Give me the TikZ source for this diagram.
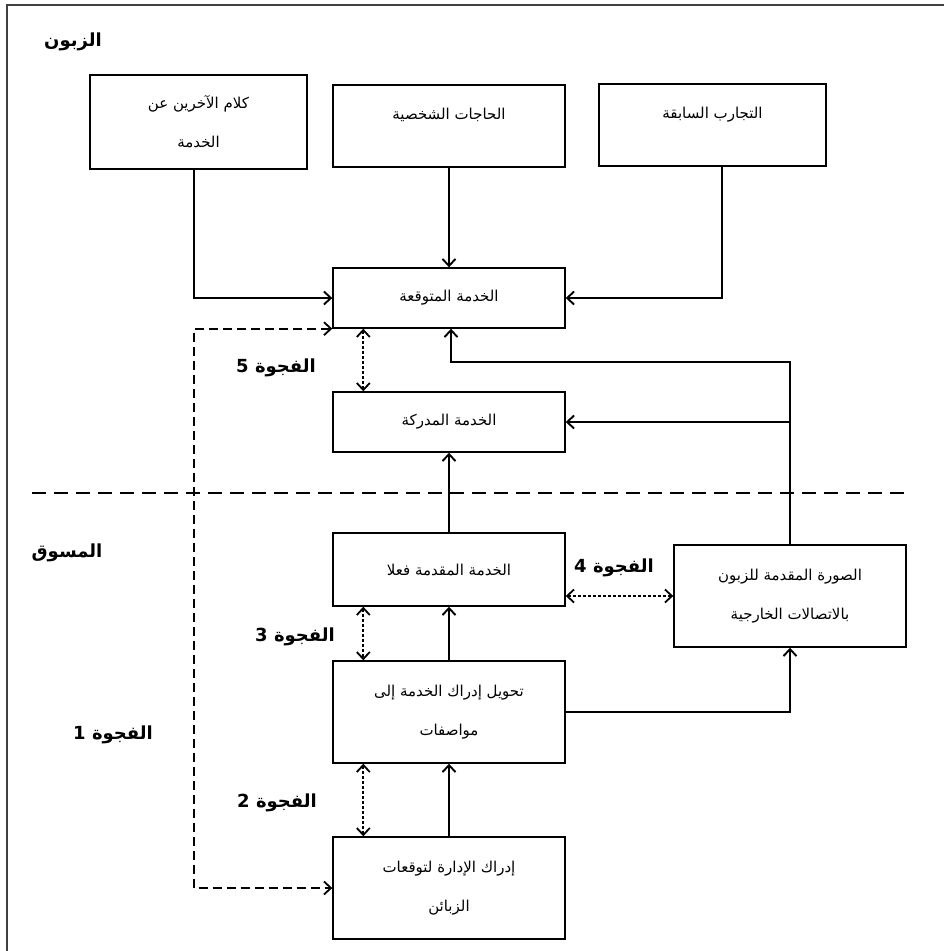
\documentclass[tikz,border=0pt]{standalone}
\usepackage{fontspec}
\newfontfamily\arabicfont[Script=Arabic]{DejaVu Sans}
\TeXXeTstate=1
\usetikzlibrary{arrows.meta,positioning}
\newcommand{\artext}[1]{{\arabicfont\beginR #1\endR}}
\tikzset{box/.style={draw,line width=1.4pt,minimum width=232pt,align=center,inner sep=0pt,font=\fontsize{15pt}{39pt}\selectfont},topbox/.style={box,text height=34pt,text depth=48pt},gaplabel/.style={font=\fontsize{18pt}{20pt}\selectfont\bfseries},arrow/.style={-{Straight Barb[length=7pt,width=13pt]},line width=1.9pt},gap/.style={{Straight Barb[length=7pt,width=13pt]}-{Straight Barb[length=7pt,width=13pt]},line width=1.8pt,dash pattern=on 3pt off 2pt},longgap/.style={gap,dash pattern=on 9pt off 5pt},divider/.style={line width=1.6pt,dash pattern=on 14pt off 8pt}}

\begin{document}
\begin{tikzpicture}[x=1pt,y=-1pt]
\useasboundingbox (0,0) rectangle (944,951);
\draw[line width=1.6pt,black!75] (944,5) -- (7,5) -- (7,951);
\node[gaplabel] (customer) at (73,42) {\artext{الزبون}};
\node[gaplabel] (marketer) at (67,553) {\artext{المسوق}};
\node[box,minimum width=217pt,minimum height=94pt] (words) at (198.5,122) {\artext{كلام الآخرين عن}\\\artext{الخدمة}};
\node[topbox] (needs) at (449,126) {\artext{الحاجات الشخصية}};
\node[topbox,minimum width=227pt] (past) at (712.5,125) {\artext{التجارب السابقة}};
\node[box,minimum height=60pt] (expected) at (449,298) {\artext{الخدمة المتوقعة}};
\node[box,minimum height=60pt] (perceived) at (449,422) {\artext{الخدمة المدركة}};
\node[box,minimum height=73pt] (delivered) at (449,569.5) {\artext{الخدمة المقدمة فعلا}};
\node[box,minimum height=102pt] (specs) at (449,712) {\artext{تحويل إدراك الخدمة إلى}\\\artext{مواصفات}};
\node[box,minimum height=102pt] (mgmt) at (449,888) {\artext{إدراك الإدارة لتوقعات}\\\artext{الزبائن}};
\node[box,minimum height=102pt] (image) at (790,596) {\artext{الصورة المقدمة للزبون}\\\artext{بالاتصالات الخارجية}};
\node[gaplabel] (gap5) at (276,368) {\artext{الفجوة 5}};
\node[gaplabel] (gap4) at (614,568) {\artext{الفجوة 4}};
\node[gaplabel] (gap3) at (295,637) {\artext{الفجوة 3}};
\node[gaplabel] (gap2) at (277,803) {\artext{الفجوة 2}};
\node[gaplabel] (gap1) at (113,735) {\artext{الفجوة 1}};
\coordinate (rail) at (790,362);
\coordinate (lane) at (194,0);
\coordinate (sepL) at (32,493);
\coordinate (sepR) at (909,493);
% customer side
\draw[arrow] (needs) -- (expected);
\draw[arrow] ([xshift=-4.5pt]words.south) |- (expected);
\draw[arrow] ([xshift=9.5pt]past.south) |- (expected);
\draw[arrow] (image.north) -- (rail) -| ([xshift=2pt]expected.south);
\draw[arrow] (image.north |- perceived.east) -- (perceived.east);
\draw[divider] (sepL) -- (sepR);
% marketer side
\draw[arrow] (delivered) -- (perceived);
\draw[arrow] (specs) -- (delivered);
\draw[arrow] (mgmt) -- (specs);
\draw[arrow] (specs.east) -| (image.south);
% gaps
\draw[gap] ([xshift=31pt]expected.south west) -- ([xshift=31pt]perceived.north west);
\draw[gap] ([xshift=31pt]delivered.south west) -- ([xshift=31pt]specs.north west);
\draw[gap] ([xshift=31pt]specs.south west) -- ([xshift=31pt]mgmt.north west);
\draw[gap] (delivered.east |- image.west) -- (image.west);
\draw[longgap] (expected.south west) -- (expected.south west -| lane) -- (mgmt.west -| lane) -- (mgmt.west);
\end{tikzpicture}
\end{document}
